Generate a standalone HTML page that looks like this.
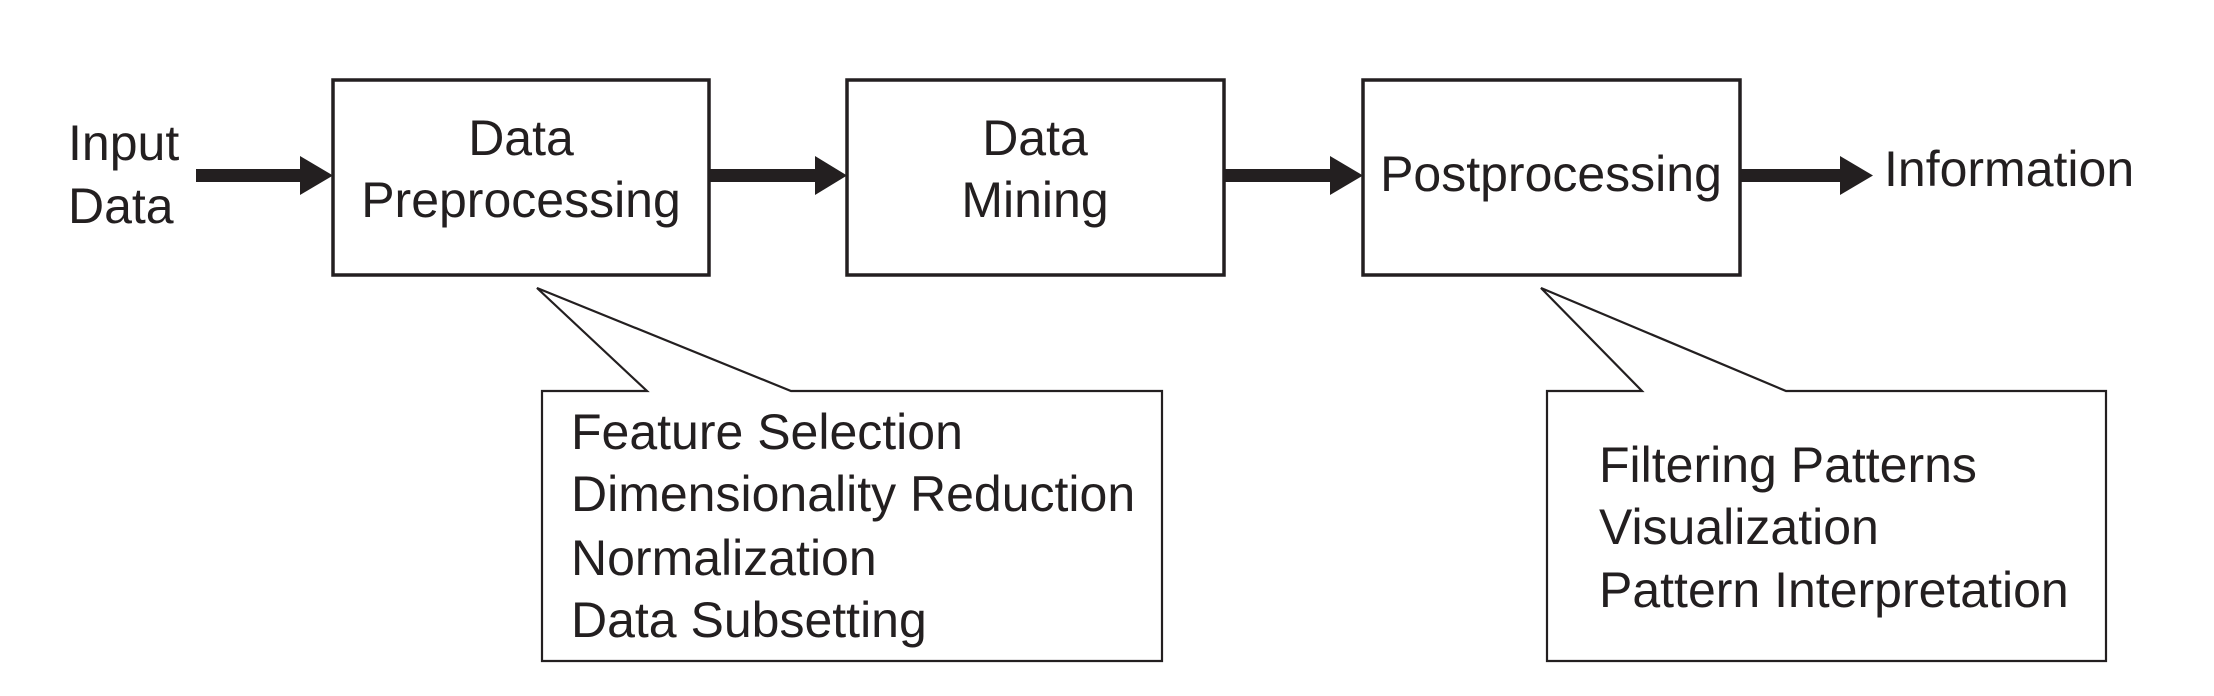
<!DOCTYPE html>
<html><head><meta charset="utf-8"><style>html,body{margin:0;padding:0;background:#fff}svg{display:block}</style></head>
<body>
<svg width="2214" height="696" viewBox="0 0 2214 696" xmlns="http://www.w3.org/2000/svg" font-family="'Liberation Sans', sans-serif" font-size="50" fill="#231f20">
<g fill="none" stroke="#231f20" stroke-width="3.5">
<rect x="333" y="80" width="376" height="195"/>
<rect x="847" y="80" width="377" height="195"/>
<rect x="1363" y="80" width="377" height="195"/>
</g>
<g fill="#231f20">
<rect x="196" y="169" width="110" height="13"/><polygon points="300,156 333,175.5 300,195"/>
<rect x="709" y="169" width="112" height="13"/><polygon points="815,156 847,175.5 815,195"/>
<rect x="1224" y="169" width="113" height="13"/><polygon points="1330,156 1363,175.5 1330,195"/>
<rect x="1740" y="169" width="108" height="13"/><polygon points="1840,156 1873,175.5 1840,195"/>
</g>
<g fill="none" stroke="#231f20" stroke-width="2.2">
<polygon points="542,391 647,391 537,288 791,391 1162,391 1162,661 542,661"/>
<polygon points="1547,391 1642,391 1541,288 1786,391 2106,391 2106,661 1547,661"/>
</g>
<text x="68" y="160">Input</text>
<text x="68" y="223">Data</text>
<text x="521" y="155" text-anchor="middle">Data</text>
<text x="521" y="217" text-anchor="middle">Preprocessing</text>
<text x="1035" y="155" text-anchor="middle">Data</text>
<text x="1035" y="217" text-anchor="middle">Mining</text>
<text x="1551" y="191" text-anchor="middle">Postprocessing</text>
<text x="1884" y="186">Information</text>
<text x="571" y="449">Feature Selection</text>
<text x="571" y="511">Dimensionality Reduction</text>
<text x="571" y="575">Normalization</text>
<text x="571" y="637">Data Subsetting</text>
<text x="1599" y="482">Filtering Patterns</text>
<text x="1599" y="544">Visualization</text>
<text x="1599" y="607">Pattern Interpretation</text>
</svg>
</body></html>
